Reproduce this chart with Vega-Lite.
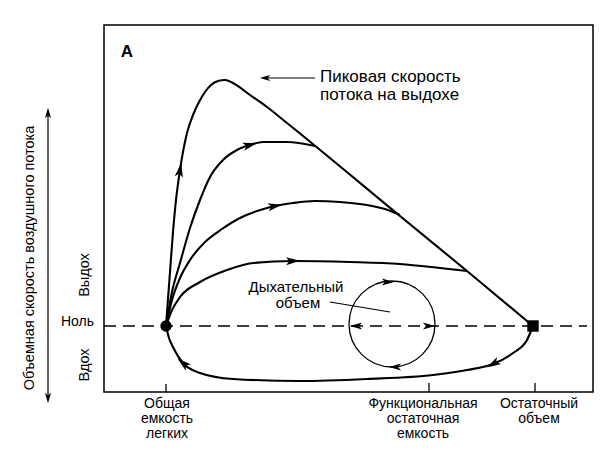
{
  "$schema": "https://vega.github.io/schema/vega-lite/v6.json",
  "width": 489,
  "height": 367,
  "autosize": "none",
  "padding": {"left": 104, "top": 25, "right": 23, "bottom": 61},
  "background": "white",
  "config": {"view": {"stroke": "black", "strokeWidth": 1.5}, "font": "Liberation Sans"},
  "encoding": {
    "x": {"field": "x", "type": "quantitative", "scale": {"domain": [0, 489], "nice": false, "zero": false}, "axis": null},
    "y": {"field": "y", "type": "quantitative", "scale": {"domain": [-66, 301], "nice": false, "zero": false}, "axis": null}
  },
  "layer": [
    {
      "data": {"values": [{"x": 0, "x2": 483, "y": 0}]},
      "mark": {"type": "rule", "stroke": "black", "strokeWidth": 1.5, "strokeDash": [12, 7]},
      "encoding": {"x2": {"field": "x2"}}
    },
    {
      "data": {"values": [{"x": 62, "y": -66, "y2": -58}, {"x": 325, "y": -66, "y2": -57}, {"x": 431, "y": -66, "y2": -57}]},
      "mark": {"type": "rule", "stroke": "black", "strokeWidth": 1.3},
      "encoding": {"y2": {"field": "y2"}}
    },
    {
      "data": {"values": [
        {"c": "peak", "i": 0, "x": 62, "y": 0}, {"c": "peak", "i": 1, "x": 66, "y": 54}, {"c": "peak", "i": 2, "x": 69, "y": 94}, {"c": "peak", "i": 3, "x": 72, "y": 126}, {"c": "peak", "i": 4, "x": 76, "y": 156}, {"c": "peak", "i": 5, "x": 83, "y": 193}, {"c": "peak", "i": 6, "x": 89, "y": 211}, {"c": "peak", "i": 7, "x": 95, "y": 224}, {"c": "peak", "i": 8, "x": 101, "y": 234}, {"c": "peak", "i": 9, "x": 107, "y": 241}, {"c": "peak", "i": 10, "x": 114, "y": 245}, {"c": "peak", "i": 11, "x": 121, "y": 246}, {"c": "peak", "i": 12, "x": 129, "y": 243}, {"c": "peak", "i": 13, "x": 146, "y": 231}, {"c": "peak", "i": 14, "x": 163, "y": 219}, {"c": "peak", "i": 15, "x": 183, "y": 203}, {"c": "peak", "i": 16, "x": 296, "y": 110}, {"c": "peak", "i": 17, "x": 363, "y": 55}, {"c": "peak", "i": 18, "x": 429, "y": 0},
        {"c": "c2", "i": 0, "x": 62, "y": 0}, {"c": "c2", "i": 1, "x": 68, "y": 34}, {"c": "c2", "i": 2, "x": 76, "y": 63}, {"c": "c2", "i": 3, "x": 86, "y": 98}, {"c": "c2", "i": 4, "x": 96, "y": 126}, {"c": "c2", "i": 5, "x": 106, "y": 149}, {"c": "c2", "i": 6, "x": 119, "y": 166}, {"c": "c2", "i": 7, "x": 133, "y": 176}, {"c": "c2", "i": 8, "x": 146, "y": 181}, {"c": "c2", "i": 9, "x": 159, "y": 184}, {"c": "c2", "i": 10, "x": 183, "y": 184}, {"c": "c2", "i": 11, "x": 211, "y": 180},
        {"c": "c3", "i": 0, "x": 62, "y": 0}, {"c": "c3", "i": 1, "x": 68, "y": 26}, {"c": "c3", "i": 2, "x": 76, "y": 48}, {"c": "c3", "i": 3, "x": 86, "y": 66}, {"c": "c3", "i": 4, "x": 101, "y": 84}, {"c": "c3", "i": 5, "x": 118, "y": 97}, {"c": "c3", "i": 6, "x": 136, "y": 108}, {"c": "c3", "i": 7, "x": 153, "y": 115}, {"c": "c3", "i": 8, "x": 171, "y": 120}, {"c": "c3", "i": 9, "x": 189, "y": 123}, {"c": "c3", "i": 10, "x": 211, "y": 125}, {"c": "c3", "i": 11, "x": 236, "y": 124}, {"c": "c3", "i": 12, "x": 263, "y": 121}, {"c": "c3", "i": 13, "x": 281, "y": 117}, {"c": "c3", "i": 14, "x": 296, "y": 111},
        {"c": "c4", "i": 0, "x": 62, "y": 0}, {"c": "c4", "i": 1, "x": 68, "y": 16}, {"c": "c4", "i": 2, "x": 76, "y": 29}, {"c": "c4", "i": 3, "x": 96, "y": 44}, {"c": "c4", "i": 4, "x": 123, "y": 56}, {"c": "c4", "i": 5, "x": 149, "y": 63}, {"c": "c4", "i": 6, "x": 189, "y": 65}, {"c": "c4", "i": 7, "x": 246, "y": 64}, {"c": "c4", "i": 8, "x": 296, "y": 62}, {"c": "c4", "i": 9, "x": 336, "y": 58}, {"c": "c4", "i": 10, "x": 363, "y": 55},
        {"c": "insp", "i": 0, "x": 62, "y": 0}, {"c": "insp", "i": 1, "x": 65, "y": -12}, {"c": "insp", "i": 2, "x": 69, "y": -21}, {"c": "insp", "i": 3, "x": 79, "y": -37}, {"c": "insp", "i": 4, "x": 96, "y": -47}, {"c": "insp", "i": 5, "x": 129, "y": -53}, {"c": "insp", "i": 6, "x": 196, "y": -55}, {"c": "insp", "i": 7, "x": 263, "y": -53}, {"c": "insp", "i": 8, "x": 329, "y": -49}, {"c": "insp", "i": 9, "x": 363, "y": -44}, {"c": "insp", "i": 10, "x": 389, "y": -38}, {"c": "insp", "i": 11, "x": 409, "y": -27}, {"c": "insp", "i": 12, "x": 423, "y": -14}, {"c": "insp", "i": 13, "x": 429, "y": 0}
      ]},
      "mark": {"type": "line", "stroke": "black", "strokeWidth": 2.1, "interpolate": "monotone"},
      "encoding": {"detail": {"field": "c"}, "order": {"field": "i", "type": "quantitative"}}
    },
    {
      "data": {"values": [{"x": 288, "y": 2}]},
      "mark": {"type": "point", "shape": "circle", "filled": false, "stroke": "black", "strokeWidth": 1.3, "size": 7396, "opacity": 1}
    },
    {
      "data": {"values": [{"x": 161, "y": 248, "x2": 211, "y2": 248}, {"x": 226, "y": 24, "x2": 286, "y2": 14}]},
      "mark": {"type": "rule", "stroke": "black", "strokeWidth": 1.2},
      "encoding": {"x2": {"field": "x2"}, "y2": {"field": "y2"}}
    },
    {
      "data": {"values": [{"x": -56, "y": -72, "y2": 213}]},
      "mark": {"type": "rule", "stroke": "black", "strokeWidth": 1.2},
      "encoding": {"y2": {"field": "y2"}}
    },
    {
      "data": {"values": [
        {"x": 76, "y": 156, "a": -80, "s": 200}, {"x": 146, "y": 181, "a": -15, "s": 200}, {"x": 171, "y": 120, "a": -10, "s": 200}, {"x": 189, "y": 65, "a": -2, "s": 200},
        {"x": 389, "y": -38, "a": 150, "s": 200}, {"x": 79, "y": -37, "a": 220, "s": 200},
        {"x": 284, "y": 44, "a": 0, "s": 150}, {"x": 291, "y": -41, "a": 180, "s": 150}, {"x": 252, "y": 0, "a": 180, "s": 150}, {"x": 325, "y": 0, "a": 0, "s": 150},
        {"x": 161, "y": 248, "a": 180, "s": 110}, {"x": -56, "y": 213, "a": -90, "s": 110}, {"x": -56, "y": -72, "a": 90, "s": 110}
      ]},
      "mark": {"type": "point", "shape": "M1,0L-1,-0.58L-0.5,0L-1,0.58Z", "filled": true, "fill": "black", "stroke": null, "opacity": 1},
      "encoding": {"angle": {"field": "a", "type": "quantitative", "scale": null}, "size": {"field": "s", "type": "quantitative", "scale": null}}
    },
    {
      "data": {"values": [{"x": 62, "y": 0}]},
      "mark": {"type": "point", "shape": "circle", "filled": true, "fill": "black", "size": 130, "opacity": 1}
    },
    {
      "data": {"values": [{"x": 429, "y": 0}]},
      "mark": {"type": "point", "shape": "square", "filled": true, "fill": "black", "size": 130, "opacity": 1}
    },
    {
      "data": {"values": [{"x": 23, "y": 274, "t": "A"}]},
      "mark": {"type": "text", "fontSize": 17, "fontWeight": "bold", "baseline": "middle", "align": "center", "fill": "black"},
      "encoding": {"text": {"field": "t"}}
    },
    {
      "data": {"values": [{"x": 216, "y": 249, "t": "Пиковая скорость"}, {"x": 216, "y": 231, "t": "потока на выдохе"}]},
      "mark": {"type": "text", "fontSize": 17, "baseline": "middle", "align": "left", "fill": "black"},
      "encoding": {"text": {"field": "t"}}
    },
    {
      "data": {"values": [{"x": 192, "y": 39, "t": "Дыхательный"}, {"x": 194, "y": 23, "t": "объем"}]},
      "mark": {"type": "text", "fontSize": 15, "baseline": "middle", "align": "center", "fill": "black"},
      "encoding": {"text": {"field": "t"}}
    },
    {
      "data": {"values": [
        {"x": 63, "y": -78, "t": "Общая"}, {"x": 63, "y": -93, "t": "емкость"}, {"x": 63, "y": -108, "t": "легких"},
        {"x": 319, "y": -78, "t": "Функциональная"}, {"x": 319, "y": -93, "t": "остаточная"}, {"x": 319, "y": -108, "t": "емкость"},
        {"x": 435, "y": -78, "t": "Остаточный"}, {"x": 435, "y": -93, "t": "объем"}
      ]},
      "mark": {"type": "text", "fontSize": 14, "baseline": "middle", "align": "center", "fill": "black"},
      "encoding": {"text": {"field": "t"}}
    },
    {
      "data": {"values": [{"x": -10, "y": 4, "t": "Ноль"}]},
      "mark": {"type": "text", "fontSize": 14, "baseline": "middle", "align": "right", "fill": "black"},
      "encoding": {"text": {"field": "t"}}
    },
    {
      "data": {"values": [{"x": -19, "y": 51, "t": "Выдох"}, {"x": -19, "y": -39, "t": "Вдох"}, {"x": -74, "y": 68, "t": "Объемная скорость воздушного потока"}]},
      "mark": {"type": "text", "fontSize": 14.5, "baseline": "middle", "align": "center", "angle": 270, "fill": "black"},
      "encoding": {"text": {"field": "t"}}
    }
  ]
}
